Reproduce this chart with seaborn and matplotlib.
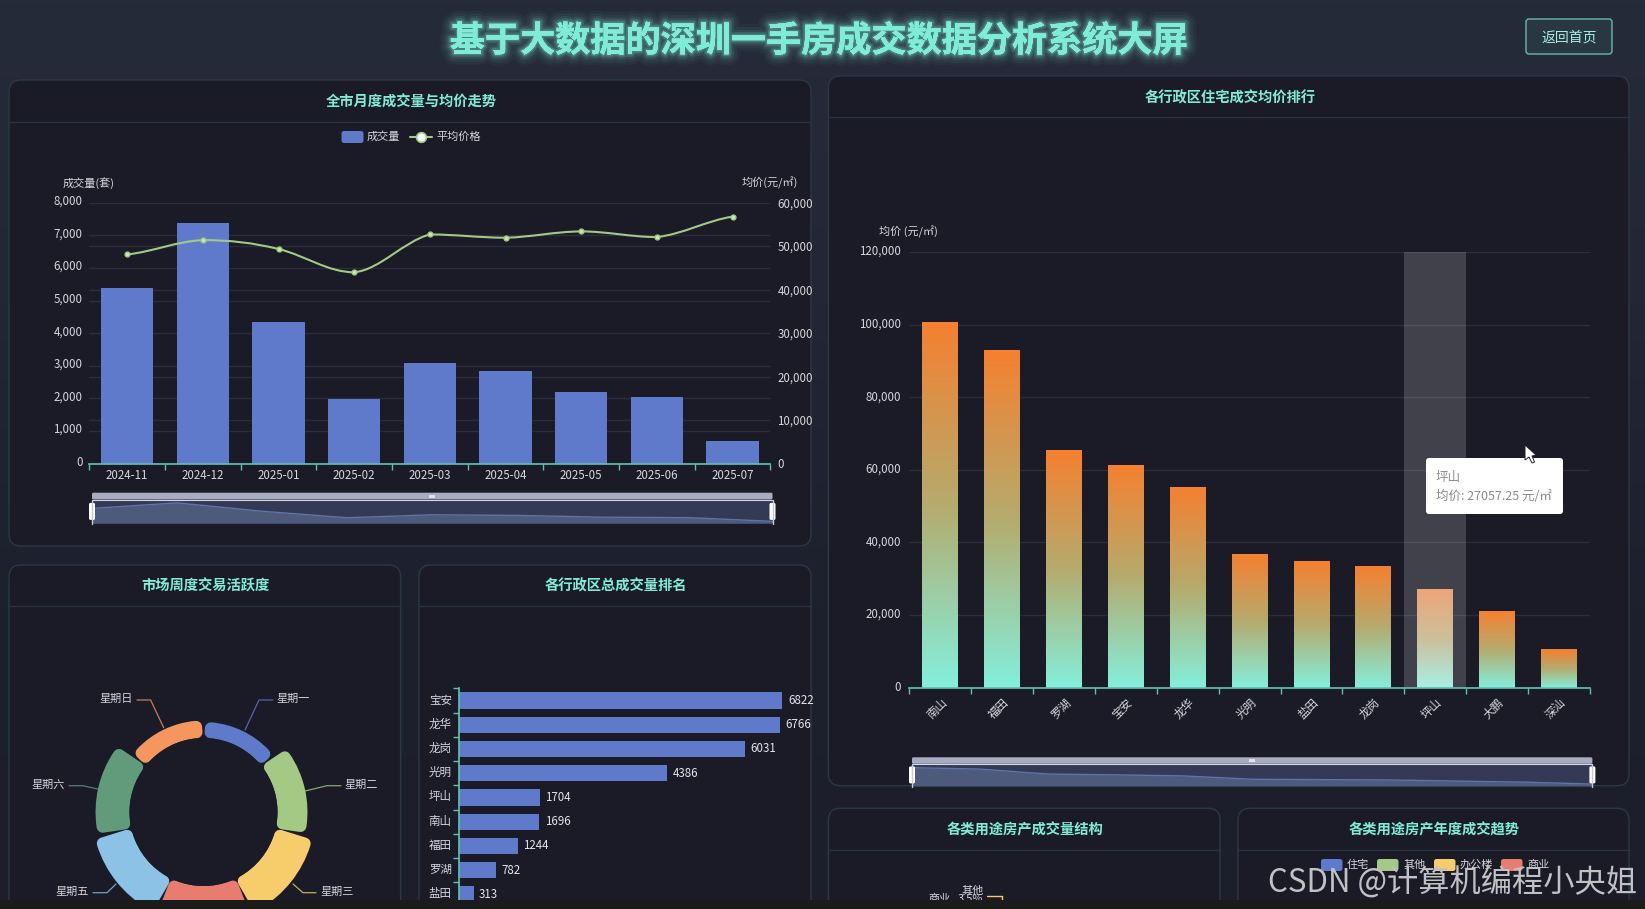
import numpy as np
import pandas as pd
import seaborn as sns
import matplotlib
matplotlib.use('Agg')
import matplotlib.pyplot as plt
from matplotlib.colors import LinearSegmentedColormap
from matplotlib.patches import FancyBboxPatch, PathPatch, Polygon
from matplotlib.path import Path
from matplotlib.ticker import FuncFormatter
from matplotlib.transforms import ScaledTranslation
import matplotlib.patheffects as pe

# Data
months = ['2024-11', '2024-12', '2025-01', '2025-02', '2025-03', '2025-04', '2025-05', '2025-06', '2025-07']
month_volume = [5374, 7387, 4352, 1992, 3075, 2850, 2207, 2054, 705]
month_price = [48100, 51400, 49350, 44000, 52700, 51950, 53400, 52100, 56800]

weekdays = ['星期一', '星期二', '星期三', '星期四', '星期五', '星期六', '星期日']
weekday_volume = [1600, 3000, 3800, 4700, 3750, 3400, 1750]

rank_districts = ['宝安', '龙华', '龙岗', '光明', '坪山', '南山', '福田', '罗湖', '盐田']
rank_volume = [6822, 6766, 6031, 4386, 1704, 1696, 1244, 782, 313]

price_districts = ['南山', '福田', '罗湖', '宝安', '龙华', '光明', '盐田', '龙岗', '坪山', '大鹏', '深汕']
price_values = [100780, 92870, 65530, 61300, 55320, 36900, 34890, 33330, 27057.25, 21190, 10690]

usage_names = ['住宅', '其他', '办公楼', '商业']

W, H = 1645, 909
CJK = ['Noto Sans CJK SC', 'DejaVu Sans']
TEAL = '#7eecd6'
TEXT = '#d6d7da'
GRID = '#2b2d3a'
AXIS = '#5fbfae'
PANEL = '#1a1b27'
BLUE = '#5f7acb'
GREEN = '#a3c985'
ROSE = [BLUE, GREEN, '#f7cd6b', '#e87d6f', '#8cc2e5', '#629a7c', '#f5965f']

sns.set_theme(style='dark')
plt.rcParams['font.family'] = CJK
plt.rcParams['axes.unicode_minus'] = False

fig = plt.figure(figsize=(W / 100, H / 100), dpi=100, facecolor='#1d202d')


def box(x0, y0, x1, y1, **kw):
    # axes placed by screenshot pixels
    return fig.add_axes([x0 / W, 1 - y1 / H, (x1 - x0) / W, (y1 - y0) / H], **kw)


def pixel_layer(zorder):
    a = box(0, 0, W, H, zorder=zorder)
    a.set_xlim(0, W)
    a.set_ylim(H, 0)
    a.axis('off')
    a.patch.set_alpha(0)
    return a


def style_axes(a):
    a.set_facecolor('none')
    for s in a.spines.values():
        s.set_visible(False)
    a.set_xlabel('')
    a.set_ylabel('')


def lift_labels(labels, px=2):
    # Noto digits sit low when centred on a tick
    for lab in labels:
        lab.set_transform(lab.get_transform() + ScaledTranslation(0, px / 100, fig.dpi_scale_trans))


# page background and panels
bg = pixel_layer(0)
page = LinearSegmentedColormap.from_list('page', ['#262b3a', '#222635', '#1d202d', '#1c1f2b'])
bg.imshow(np.linspace(0, 1, 256).reshape(-1, 1), extent=[0, W, H, 0], aspect='auto', cmap=page)
bg.set_xlim(0, W)
bg.set_ylim(H, 0)


def panel(x0, y0, x1, y1, head, title):
    bg.add_patch(FancyBboxPatch((x0, y0), x1 - x0, y1 - y0, boxstyle='round,pad=0,rounding_size=12',
                                fc=PANEL, ec='#2b3944', lw=1))
    bg.plot([x0, x1], [head, head], color='#283440', lw=1)
    bg.text((x0 + x1) / 2 + 1, (y0 + head) / 2 + 1.5, title, color=TEAL, fontsize=10.3, fontweight='bold',
            ha='center', va='center')


panel(9, 80, 811, 546, 121.7, '全市月度成交量与均价走势')
panel(9, 565, 400.6, 940, 605.7, '市场周度交易活跃度')
panel(419, 565, 811, 940, 605.7, '各行政区总成交量排名')
panel(828.4, 76, 1629, 785.7, 117.3, '各行政区住宅成交均价排行')
panel(828.4, 808.3, 1220, 940, 850, '各类用途房产成交量结构')
panel(1238, 808.3, 1629, 940, 850, '各类用途房产年度成交趋势')

title = bg.text(818.6, 41, '基于大数据的深圳一手房成交数据分析系统大屏', color=TEAL, fontsize=25.3,
                fontweight='bold', ha='center', va='center')
title.set_path_effects([pe.withStroke(linewidth=w, foreground=TEAL, alpha=al)
                        for w, al in [(16, 0.04), (12, 0.06), (8, 0.09), (5, 0.14), (2.5, 0.22)]])
bg.add_patch(FancyBboxPatch((1526, 19), 86, 35, boxstyle='round,pad=0,rounding_size=3',
                            fc='#293743', ec='#66b9ac', lw=1))
bg.text(1569, 37.5, '返回首页', color='#a8efe0', fontsize=10, ha='center', va='center')

# monthly volume and price
df_month = pd.DataFrame({'month': months, 'volume': month_volume, 'price': month_price})
ax = box(89.4, 202.7, 770.4, 463.7, zorder=2)
sns.barplot(data=df_month, x='month', y='volume', color=BLUE, saturation=1, width=0.69, ax=ax, linewidth=0)
style_axes(ax)
ax.set_ylim(0, 8000)
ax.set_xlim(-0.5, len(months) - 0.5)
ax.set_yticks(range(0, 8001, 1000))
ax.set_yticks([v * 8000 / 60000 for v in range(10000, 50001, 10000)], minor=True)
ax.yaxis.set_major_formatter(FuncFormatter(lambda v, _: f'{v:,.0f}'))
ax.set_axisbelow(True)
ax.grid(axis='y', which='both', color=GRID, lw=1)
ax.grid(axis='x', visible=False)
ax.tick_params(axis='y', which='both', length=0, labelsize=8.3, labelcolor=TEXT, pad=5)
ax.spines['bottom'].set_visible(True)
ax.spines['bottom'].set_color(AXIS)
ax.set_xticks(np.arange(-0.5, len(months)), minor=True)
ax.tick_params(axis='x', which='major', length=0, labelsize=8.3, labelcolor=TEXT, pad=4)
ax.tick_params(axis='x', which='minor', length=4, color=AXIS, width=1, bottom=True)
lift_labels(ax.get_yticklabels(), px=3)

ax2 = ax.twinx()
style_axes(ax2)
ax2.set_ylim(0, 60000)
ax2.set_yticks(range(0, 60001, 10000))
ax2.yaxis.set_major_formatter(FuncFormatter(lambda v, _: f'{v:,.0f}'))
ax2.tick_params(axis='y', length=0, labelsize=8.3, labelcolor=TEXT, pad=5)
ax2.grid(False)
lift_labels([t.label2 for t in ax2.yaxis.get_major_ticks()], px=0.5)

# echarts style smoothing, control points clamped so the curve never overshoots
verts = [(0, month_price[0])]
codes = [Path.MOVETO]
n = len(month_price)
for i in range(n - 1):
    slope_a = (month_price[i + 1] - month_price[max(i - 1, 0)]) * 0.2
    slope_b = (month_price[min(i + 2, n - 1)] - month_price[i]) * 0.2
    lo, hi = sorted((month_price[i], month_price[i + 1]))
    verts += [(i + 0.35, float(np.clip(month_price[i] + slope_a, lo, hi))),
              (i + 0.65, float(np.clip(month_price[i + 1] - slope_b, lo, hi))),
              (i + 1, month_price[i + 1])]
    codes += [Path.CURVE4] * 3
ax2.add_patch(PathPatch(Path(verts, codes), fc='none', ec=GREEN, lw=1.5))
sns.scatterplot(data=df_month, x='month', y='price', ax=ax2, color='#cfe6b6', edgecolor=GREEN, s=12, linewidth=1)
style_axes(ax2)
ax2.set_xlim(-0.5, len(months) - 0.5)

# weekday rose
rose = box(73.5, 682, 333.5, 942, projection='polar', zorder=2)
rose.set_theta_zero_location('N')
rose.set_theta_direction(-1)
rose.set_rorigin(-7400)
rose.set_rlim(0, 5600)
rose.axis('off')
rose.patch.set_alpha(0)
step = 2 * np.pi / len(weekdays)
inset_r = 600
for i, val in enumerate(weekday_volume):
    centre = (i + 0.5) * step
    r_mid = 74 + val / 200
    gap = 7.2 / r_mid
    b = rose.bar(centre, val - 2 * inset_r, width=step - 2 * gap, bottom=inset_r, color=ROSE[i],
                 edgecolor=ROSE[i], linewidth=8.6)
    b[0].set_joinstyle('round')

# district volume ranking
df_rank = pd.DataFrame({'district': rank_districts, 'volume': rank_volume})
ax3 = box(458.7, 688.3, 800, 906.5, zorder=2)
sns.barplot(data=df_rank, y='district', x='volume', color=BLUE, saturation=1, width=0.67, ax=ax3, orient='h',
            linewidth=0)
style_axes(ax3)
ax3.set_xlim(0, 341.3 / 0.04745)
ax3.set_ylim(len(rank_districts) - 0.5, -0.5)
ax3.spines['left'].set_visible(True)
ax3.spines['left'].set_color(AXIS)
ax3.set_xticks([])
ax3.set_yticks(np.arange(-0.5, len(rank_districts)), minor=True)
ax3.tick_params(axis='y', which='major', length=0, labelsize=8.3, labelcolor=TEXT, pad=5)
ax3.tick_params(axis='y', which='minor', length=4, color=AXIS, left=True)
lift_labels(ax3.get_yticklabels())
ax3.bar_label(ax3.containers[0], padding=4, color='#e4e5e8', fontsize=8.3, clip_on=False)

# district average price with gradient bars
df_price = pd.DataFrame({'district': price_districts, 'price': price_values})
ax4 = box(909.4, 252, 1589.8, 687.7, zorder=2)
sns.barplot(data=df_price, x='district', y='price', color='#83ecd9', saturation=1, width=0.58, ax=ax4, linewidth=0)
style_axes(ax4)
ax4.set_ylim(0, 120000)
ax4.set_xlim(-0.5, len(price_districts) - 0.5)
ax4.set_yticks(range(0, 120001, 20000))
ax4.yaxis.set_major_formatter(FuncFormatter(lambda v, _: f'{v:,.0f}'))
ax4.set_axisbelow(True)
ax4.grid(axis='y', color=GRID, lw=1)
ax4.grid(axis='x', visible=False)
ax4.tick_params(axis='y', length=0, labelsize=8.3, labelcolor=TEXT, pad=6)
ax4.spines['bottom'].set_visible(True)
ax4.spines['bottom'].set_color(AXIS)
ax4.set_xticks(np.arange(-0.5, len(price_districts)), minor=True)
ax4.tick_params(axis='x', which='major', length=0, labelsize=8.3, labelcolor=TEXT, pad=6)
ax4.tick_params(axis='x', which='minor', length=4, color=AXIS, bottom=True)
lift_labels(ax4.get_yticklabels())
for lab in ax4.get_xticklabels():
    lab.set_rotation(45)
    lab.set_ha('right')
    lab.set_rotation_mode('anchor')

hover = price_districts.index('坪山')
grad = LinearSegmentedColormap.from_list('grad', ['#84efdd', '#b5ab6d', '#f58030'])
grad_hover = LinearSegmentedColormap.from_list('grad_hover', ['#a8efe6', '#cdc09a', '#eda578'])
ramp = np.linspace(1, 0, 256).reshape(-1, 1)
for i, bar in enumerate(list(ax4.patches)):
    bar.set_visible(False)
    ax4.imshow(ramp, extent=[bar.get_x(), bar.get_x() + bar.get_width(), 0, bar.get_height()],
               aspect='auto', cmap=grad_hover if i == hover else grad, zorder=2, vmin=0, vmax=1)
ax4.axvspan(hover - 0.5, hover + 0.5, color='#ffffff', alpha=0.17, lw=0, zorder=0.6)
ax4.set_ylim(0, 120000)
ax4.set_xlim(-0.5, len(price_districts) - 0.5)


def mini_zoom(x0, bar_top, x1, body_top, body_bottom, values, vmax):
    # the dataZoom slider under a chart
    m = box(x0, body_top, x1, body_bottom, zorder=3)
    m.set_facecolor('#343a56')
    xs = np.arange(len(values))
    m.fill_between(xs, values, color='#4d5a7c', lw=0)
    sns.lineplot(x=xs, y=values, ax=m, color='#5f74a8', lw=1)
    m.set_xlim(0, len(values) - 1)
    m.set_ylim(0, vmax)
    m.set_xticks([])
    m.set_yticks([])
    m.grid(False)
    for s in m.spines.values():
        s.set_visible(False)
    top.add_patch(FancyBboxPatch((x0, bar_top), x1 - x0, body_top - bar_top,
                                 boxstyle='round,pad=0,rounding_size=1.5', fc='#a7acc0', ec='none'))
    top.plot([x0, x1], [body_top, body_top], color='#d5d8e2', lw=0.8)
    top.add_patch(FancyBboxPatch(((x0 + x1) / 2 - 3, (bar_top + body_top) / 2 - 1.5), 6, 3,
                                 boxstyle='square,pad=0', fc='#dfe2ea', ec='none'))
    mid = (body_top + body_bottom) / 2
    for hx in (x0, x1):
        top.plot([hx, hx], [body_top, body_bottom + 1], color='#c6cad6', lw=1)
        top.add_patch(FancyBboxPatch((hx - 3, mid - 8.5), 6, 17, boxstyle='round,pad=0,rounding_size=1.5',
                                     fc='white', ec='none'))


top = pixel_layer(6)
mini_zoom(92, 492.7, 772.5, 499.5, 523.3, month_volume, 8600)
mini_zoom(912, 757.3, 1592.4, 763.8, 786, price_values, 122000)

# axis names
top.text(89, 183, '成交量(套)', color=TEXT, fontsize=8, ha='center', va='center')
top.text(770, 183, '均价(元/㎡)', color=TEXT, fontsize=8, ha='center', va='center')
top.text(908.4, 232.3, '均价 (元/㎡)', color=TEXT, fontsize=8, ha='center', va='center')

# legend of the monthly chart
top.add_patch(FancyBboxPatch((341.5, 131), 22, 12, boxstyle='round,pad=0,rounding_size=2.5', fc=BLUE, ec='none'))
top.text(367, 136.5, '成交量', color=TEXT, fontsize=8, ha='left', va='center')
top.plot([409.5, 431.5], [137, 137], color=GREEN, lw=1.5)
top.plot([420.5], [137], marker='o', ms=7, mfc='white', mec=GREEN, mew=1.2)
top.text(436, 136.5, '平均价格', color=TEXT, fontsize=8, ha='left', va='center')

# rose labels and leader lines
leaders = {
    '星期一': ((293, 699), [(273, 700), (259, 700), (245, 730)]),
    '星期二': ((361, 785), [(341, 785.7), (327, 785.7), (305, 791)]),
    '星期三': ((337, 892), [(316, 892.7), (303, 892.7), (293, 884)]),
    '星期五': ((72, 892), [(93, 892.7), (107, 892.7), (116, 884)]),
    '星期六': ((48, 785), [(69, 785.7), (82.6, 785.7), (98, 789)]),
    '星期日': ((116, 699), [(137, 700), (150.6, 700), (163.7, 727.7)]),
}
for name, (pos, line) in leaders.items():
    c = ROSE[weekdays.index(name)]
    top.text(pos[0], pos[1], name, color=TEXT, fontsize=8, ha='center', va='center')
    top.plot(*zip(*line), color=c, lw=0.9, alpha=0.8)

# tooltip and mouse pointer
top.add_patch(FancyBboxPatch((1426, 458), 137, 56, boxstyle='round,pad=0,rounding_size=3', fc='white', ec='none'))
top.text(1435.6, 477, '坪山', color='#8a8a8a', fontsize=9, ha='left', va='center')
top.text(1435.6, 496, '均价: 27057.25 元/㎡', color='#8a8a8a', fontsize=9, ha='left', va='center')
top.add_patch(Polygon([(1525, 445), (1525, 460), (1529, 457), (1532, 463), (1534.5, 462), (1532, 456), (1536, 455)],
                      closed=True, fc='white', ec='#222222', lw=0.7))

# bits of the two lower panels that show before the crop
top.text(972.6, 891, '其他', color=TEXT, fontsize=8, ha='center', va='center')
top.text(939.5, 899, '商业', color=TEXT, fontsize=8, ha='center', va='center')
top.text(970, 899, '3.5%', color=TEXT, fontsize=8, ha='center', va='center')
top.plot([987, 1001.5, 1001.5], [895.7, 895.7, 901], color='#f7cd6b', lw=1)
for name, x, c in zip(usage_names, [1321, 1377, 1434, 1501], [BLUE, GREEN, '#f7cd6b', '#e87d6f']):
    top.add_patch(FancyBboxPatch((x, 859), 21.5, 12, boxstyle='round,pad=0,rounding_size=2.5', fc=c, ec='none'))
    top.text(x + 26, 865, name, color=TEXT, fontsize=8, ha='left', va='center')

# screenshot strip and watermark
top.add_patch(plt.Rectangle((0, 900), W, 9, fc='#1b1b1b', ec='none', zorder=8))
top.text(1453, 883, 'CSDN @计算机编程小央姐', color='#bfc1c4', fontsize=22.5, ha='center', va='center', zorder=9)

fig.savefig('out.png', dpi=100, facecolor=fig.get_facecolor())
